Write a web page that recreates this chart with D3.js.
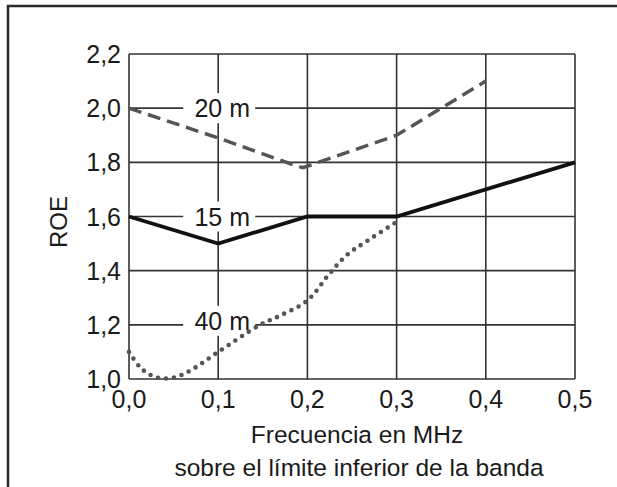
<!DOCTYPE html>
<html>
<head>
<meta charset="utf-8">
<script src="https://cdn.jsdelivr.net/npm/d3@7"></script>
<style>
  body { margin: 0; background: #fff; }
  text { font-family: "Liberation Sans", Arial, sans-serif; fill: #1a1a1a; }
</style>
</head>
<body>
<svg width="617" height="487"></svg>
<script>
// values
var xTicks = [0, 0.1, 0.2, 0.3, 0.4, 0.5];
var yTicks = [1.0, 1.2, 1.4, 1.6, 1.8, 2.0, 2.2];

var band20 = [[0, 2.0], [0.1, 1.89], [0.185, 1.79], [0.195, 1.78], [0.3, 1.9], [0.4, 2.1]];
var band15 = [[0, 1.6], [0.1, 1.5], [0.2, 1.6], [0.3, 1.6], [0.5, 1.8]];
var band40 = [[0, 1.10], [0.012, 1.045], [0.024, 1.015], [0.035, 1.003], [0.05, 1.005],
  [0.068, 1.03], [0.1, 1.10], [0.147, 1.2], [0.17, 1.235], [0.2, 1.29], [0.225, 1.39],
  [0.245, 1.46], [0.267, 1.51], [0.3, 1.58]];

var bandLabels = ["20 m", "15 m", "40 m"];
var labelPos = [[0.1, 2.0], [0.1, 1.6], [0.1, 1.215]];

var svg = d3.select("svg"),
  width = +svg.attr("width"),
  height = +svg.attr("height");

var margin = {left: 129, right: 42, top: 54, bottom: 108};

var x = d3.scaleLinear().domain([0, 0.5]).range([margin.left, width - margin.right]);
var y = d3.scaleLinear().domain([1.0, 2.2]).range([height - margin.bottom, margin.top]);

var fmt = function(d) { return d3.format(".1f")(d).replace(".", ","); };

// outer frame (only left and top edges visible)
svg.append("path")
  .attr("d", "M8,487 L8,6 L617,6")
  .attr("fill", "none").attr("stroke", "#2a2a2a").attr("stroke-width", 2.5);

// grid
var grid = svg.append("g").attr("stroke", "#333").attr("stroke-width", 1.6);
grid.selectAll(".vx").data(xTicks).enter().append("line")
  .attr("x1", function(d) { return x(d); }).attr("x2", function(d) { return x(d); })
  .attr("y1", y(1.0)).attr("y2", y(2.2));
grid.selectAll(".hy").data(yTicks).enter().append("line")
  .attr("y1", function(d) { return y(d); }).attr("y2", function(d) { return y(d); })
  .attr("x1", x(0)).attr("x2", x(0.5));

// band labels with white boxes breaking the grid
var lab = svg.append("g");
bandLabels.forEach(function(t, i) {
  var p = labelPos[i];
  lab.append("rect")
    .attr("x", x(p[0]) - 35).attr("y", y(p[1]) - 15)
    .attr("width", 72).attr("height", 30)
    .attr("fill", "#fff");
  lab.append("text")
    .attr("x", x(p[0]) + 4).attr("y", y(p[1]) + 9)
    .attr("text-anchor", "middle")
    .attr("font-size", 25)
    .text(t);
});

var line = d3.line().x(function(d) { return x(d[0]); }).y(function(d) { return y(d[1]); });

svg.append("path").datum(band20)
  .attr("d", line)
  .attr("fill", "none").attr("stroke", "#555").attr("stroke-width", 3.5)
  .attr("stroke-dasharray", "13,7");

svg.append("path").datum(band15)
  .attr("d", line)
  .attr("fill", "none").attr("stroke", "#111").attr("stroke-width", 3.8);

svg.append("path").datum(band40)
  .attr("d", line.curve(d3.curveCatmullRom))
  .attr("fill", "none").attr("stroke", "#555").attr("stroke-width", 4.6)
  .attr("stroke-linecap", "round")
  .attr("stroke-dasharray", "0,8");

// tick labels
svg.append("g").selectAll("text").data(yTicks).enter().append("text")
  .attr("x", x(0) - 8).attr("y", function(d) { return y(d) + 9; })
  .attr("text-anchor", "end").attr("font-size", 25)
  .text(fmt);

svg.append("g").selectAll("text").data(xTicks).enter().append("text")
  .attr("x", function(d) { return x(d); }).attr("y", y(1.0) + 29)
  .attr("text-anchor", "middle").attr("font-size", 25)
  .text(fmt);

// axis titles
svg.append("text")
  .attr("transform", "translate(67,222) rotate(-90)")
  .attr("text-anchor", "middle").attr("font-size", 24)
  .text("ROE");

svg.append("text")
  .attr("x", 357).attr("y", 443)
  .attr("text-anchor", "middle").attr("font-size", 24.5)
  .text("Frecuencia en MHz");

svg.append("text")
  .attr("x", 359).attr("y", 476)
  .attr("text-anchor", "middle").attr("font-size", 24.5)
  .text("sobre el límite inferior de la banda");
</script>
</body>
</html>
